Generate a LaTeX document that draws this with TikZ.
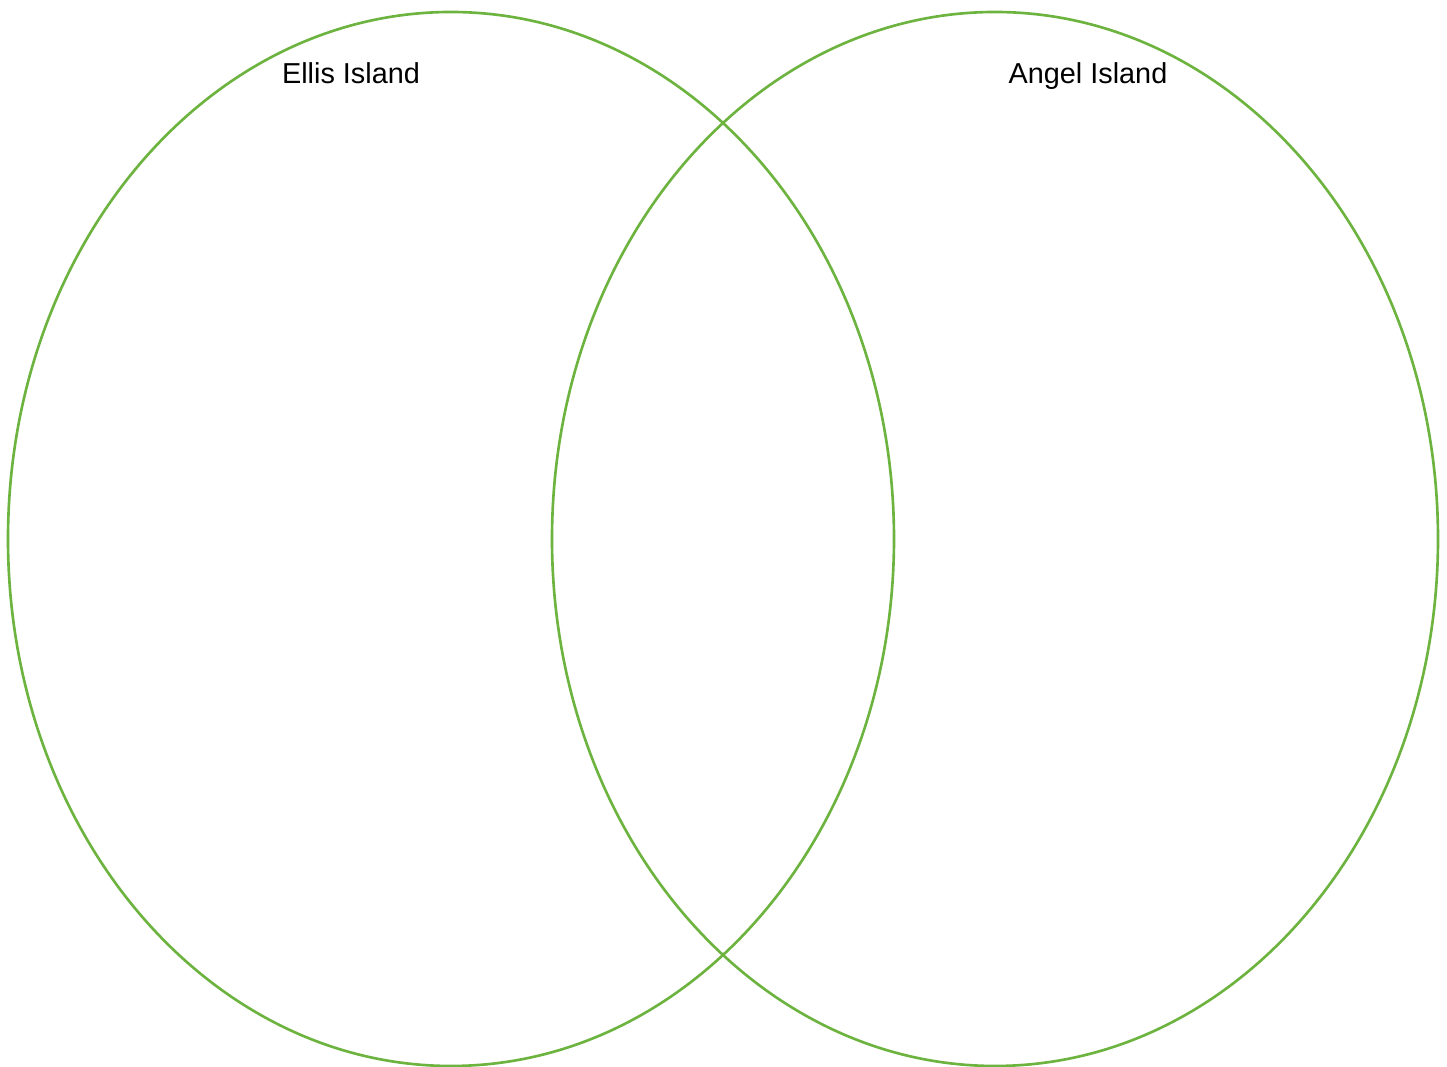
\documentclass[tikz,border=0pt]{standalone}
\usepackage{fontspec}
\setmainfont{Liberation Sans}
\usepackage{xcolor}
\definecolor{venngreen}{HTML}{6DB33F}

\begin{document}
\begin{tikzpicture}[x=0.01cm,y=0.01cm,
    vennset/.style={draw=venngreen,line width=0.75pt},
    setlabel/.style={font=\fontsize{8.2}{10}\selectfont,text=black,inner sep=0pt,
      text height=0.72em,text depth=0.22em}]
  \useasboundingbox (0,0) rectangle (1447,1067);
  % Left set: Ellis Island
  \draw[vennset] (451,528) ellipse (443 and 527);
  \node[setlabel] (ellis) at (351,992) {Ellis Island};
  % Right set: Angel Island
  \draw[vennset] (995,528) ellipse (443 and 527);
  \node[setlabel] (angel) at (1088,992) {Angel Island};
\end{tikzpicture}
\end{document}
